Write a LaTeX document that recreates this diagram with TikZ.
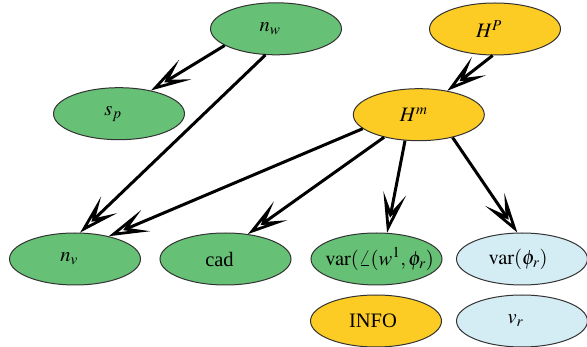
\documentclass[tikz,border=0pt]{standalone}
\usepackage{mathptmx}
\usepackage{fontspec}
\setmainfont{Liberation Serif}
\usetikzlibrary{shapes.geometric,arrows.meta}

% label centred in a fixed ellipse, moved sideways by half of #1
\newcommand\shiftlbl[2]{\makebox[0pt]{\hspace*{#1}#2}}

\definecolor{nodegreen}{RGB}{102,192,117}
\definecolor{nodeyellow}{RGB}{252,204,36}
\definecolor{nodeblue}{RGB}{212,236,243}

\tikzset{
  ell/.style={ellipse, draw=black!80, line width=1pt, inner sep=0pt,
    minimum width=131pt, minimum height=52pt,
    font=\fontsize{20.5}{24}\selectfont},
  green node/.style={ell, fill=nodegreen},
  yellow node/.style={ell, fill=nodeyellow},
  blue node/.style={ell, fill=nodeblue},
  link/.style={line width=3pt,
    -{Stealth[open, length=40pt, width=23pt, inset=19pt, line width=2.8pt]}},
}

\begin{document}
\begin{tikzpicture}[x=1pt, y=-1pt]
\useasboundingbox (0,0) rectangle (587,347);

% nodes
\node[green node]  (nw)     at (276,28.8)  {\shiftlbl{-12pt}{$n_w$}};
\node[yellow node] (HP)     at (495,29)    {\shiftlbl{-12pt}{$H^P$}};
\node[green node]  (sp)     at (119,113.7) {\shiftlbl{-12pt}{$s_p$}};
\node[yellow node] (Hm)     at (418.8,114.7) {\shiftlbl{-10pt}{$H^m$}};
\node[green node]  (nv)     at (75,259)    {\shiftlbl{-12pt}{$n_v$}};
\node[green node]  (cad)    at (225.5,259) {\shiftlbl{-12pt}{cad}};
\node[green node]  (varang) at (376.5,259) {\shiftlbl{6pt}{$\mathrm{var}(\angle(w^1,\phi_r)$}};
\node[blue node]   (varphi) at (522,259)   {\shiftlbl{-8pt}{$\mathrm{var}(\phi_r)$}};
\node[yellow node] (info)   at (376,321)   {\shiftlbl{-6pt}{INFO}};
\node[blue node]   (vr)     at (522,321)   {\shiftlbl{-13pt}{$v_r$}};

% connectors
\draw[link] (nw.198.6) -- (sp.36.8);
\draw[link] (nw.248.5) -- (nv.79.5);
\draw[link] (HP.265.9) -- (Hm.40);
\draw[link] (Hm.194.7) -- (nv.34.4);
\draw[link] (Hm.213.6) -- (cad.48.4);
\draw[link] (Hm.242.9) -- (varang.68.4);
\draw[link] (Hm.326.9) -- (varphi.100.6);
\end{tikzpicture}
\end{document}
